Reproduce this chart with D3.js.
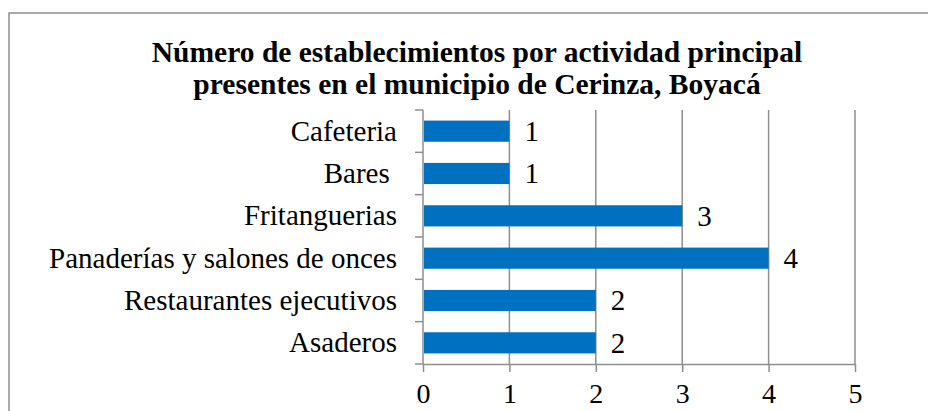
<!DOCTYPE html>
<html>
<head>
<meta charset="utf-8">
<script src="https://cdn.jsdelivr.net/npm/d3@7"></script>
<style>
  body { margin: 0; background: #fff; }
  svg text { white-space: pre; }
</style>
</head>
<body>
<svg width="928" height="411"></svg>
<script>
// datos (de arriba hacia abajo)
const categorias = ["Cafeteria", "Bares ", "Fritanguerias", "Panaderías y salones de onces", "Restaurantes ejecutivos", "Asaderos"];
const valores = [1, 1, 3, 4, 2, 2];
const ticksX = [0, 1, 2, 3, 4, 5];
const titulo = ["Número de establecimientos por actividad principal", "presentes en el municipio de Cerinza, Boyacá"];

const fuente = "'Times New Roman', 'Liberation Serif', 'DejaVu Serif', serif";
const svg = d3.select("svg").attr("font-family", fuente);
const gris = "#8e8e8e";

// marco del gráfico
svg.append("rect")
  .attr("x", 9).attr("y", 13)
  .attr("width", 940).attr("height", 420)
  .attr("fill", "none")
  .attr("stroke", gris)
  .attr("stroke-width", 1.5);

const x = d3.scaleLinear().domain([0, 5]).range([423, 855]);
const y = d3.scaleBand().domain(categorias).range([110, 364])
  .paddingInner(0.5).paddingOuter(0.25);

// titulo
svg.append("text")
  .attr("text-anchor", "middle")
  .attr("font-weight", "bold")
  .attr("font-size", 29.5)
  .selectAll("tspan")
  .data(titulo)
  .join("tspan")
  .attr("x", 477)
  .attr("y", (d, i) => 62 + i * 32)
  .text(d => d);

// rejilla vertical
svg.append("g")
  .selectAll("line")
  .data(ticksX.slice(1))
  .join("line")
  .attr("x1", d => x(d)).attr("x2", d => x(d))
  .attr("y1", 110).attr("y2", 364)
  .attr("stroke", gris)
  .attr("stroke-width", 1.5);

// eje x
const ejeX = svg.append("g")
  .attr("transform", "translate(0,364)")
  .call(d3.axisBottom(x).tickValues(ticksX).tickFormat(d3.format("d"))
    .tickSize(8).tickSizeOuter(0).tickPadding(11));
ejeX.attr("font-family", fuente).attr("font-size", 28);
ejeX.select(".domain").attr("stroke", gris).attr("stroke-width", 1.5);
ejeX.selectAll(".tick line").attr("stroke", gris).attr("stroke-width", 1.5);
ejeX.selectAll(".tick text").attr("fill", "#000").attr("dy", "0.71em");

// eje y
const limites = d3.range(categorias.length + 1).map(i => 110 + i * y.step());
svg.append("line")
  .attr("x1", x(0)).attr("x2", x(0))
  .attr("y1", 110).attr("y2", 364)
  .attr("stroke", gris).attr("stroke-width", 1.5);
svg.append("g")
  .selectAll("line")
  .data(limites)
  .join("line")
  .attr("x1", x(0) - 8).attr("x2", x(0))
  .attr("y1", d => d).attr("y2", d => d)
  .attr("stroke", gris).attr("stroke-width", 1.5);

svg.append("g")
  .selectAll("text")
  .data(categorias)
  .join("text")
  .attr("x", 397)
  .attr("y", d => y(d) + y.bandwidth() / 2)
  .attr("dy", "0.33em")
  .attr("text-anchor", "end")
  .attr("font-size", 29)
  .text(d => d);

// barras
svg.append("g")
  .selectAll("rect")
  .data(valores)
  .join("rect")
  .attr("x", x(0) + 1)
  .attr("y", (d, i) => y(categorias[i]))
  .attr("width", d => x(d) - x(0) - 1)
  .attr("height", y.bandwidth())
  .attr("fill", "#0070C0");

// etiquetas de valor
svg.append("g")
  .selectAll("text")
  .data(valores)
  .join("text")
  .attr("x", d => x(d) + 15)
  .attr("y", (d, i) => y(categorias[i]) + y.bandwidth() / 2)
  .attr("dy", "0.34em")
  .attr("font-size", 29)
  .text(d => d);
</script>
</body>
</html>
